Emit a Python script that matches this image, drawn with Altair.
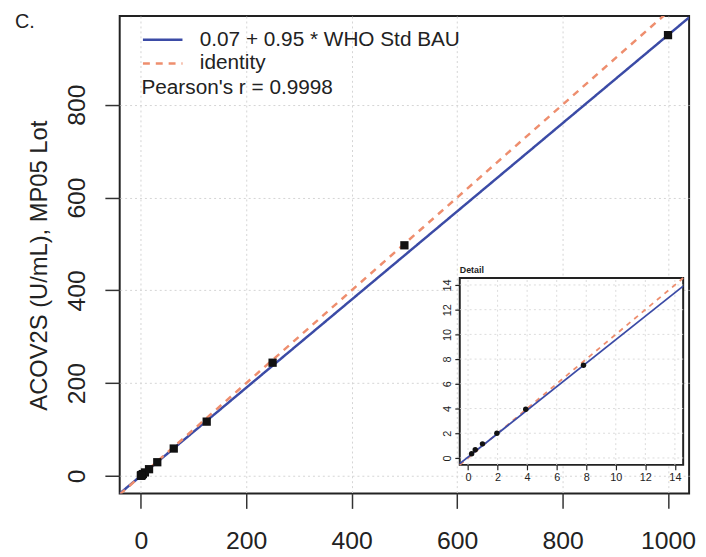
import altair as alt
import pandas as pd

# ---- data ----
who_std = [1000, 500, 250, 125, 62.5, 31.25, 15.625, 7.8125, 3.906, 1.953, 0.977, 0.488, 0.244]
acov2s = [950, 497, 244, 117, 59, 29.5, 14.5, 7.5, 3.94, 2.0, 1.14, 0.66, 0.34]
intercept = 0.07
slope = 0.95
pearson_text = "Pearson's r = 0.9998"
fit_label = "0.07 + 0.95 * WHO Std BAU"
id_label = "identity"
main_ticks = [0, 200, 400, 600, 800, 1000]
inset_ticks = [0, 2, 4, 6, 8, 10, 12, 14]
main_x_domain = [-40, 1040]
main_y_domain = [-38, 991]
inset_domain = [-0.56, 14.56]
inset_x_range = [344, 570]
inset_y_range = [454, 265]

FONT = "Liberation Sans"
BLUE = "#3B4BA6"
SALMON = "#EE8E6E"
W, H = 576, 483

pts = pd.DataFrame({"x": who_std, "y": acov2s})
inset_pts = pts[pts["x"] <= inset_domain[1]]


def lines_df(lo, hi):
    return pd.DataFrame({
        "x": [lo, hi, lo, hi],
        "y": [intercept + slope * lo, intercept + slope * hi, lo, hi],
        "series": [fit_label, fit_label, id_label, id_label],
    })


main_lines = lines_df(main_x_domain[0], main_x_domain[1])
inset_lines = lines_df(inset_domain[0], inset_domain[1])

mx = alt.Scale(domain=main_x_domain, nice=False, zero=False)
my = alt.Scale(domain=main_y_domain, nice=False, zero=False)

x_axis = alt.Axis(values=main_ticks, format="d", title=None, domain=False, tickSize=15,
                  tickWidth=1.5, tickColor="#333", labelFontSize=25, labelColor="#222",
                  labelFont=FONT, labelPadding=21, grid=True, gridColor="#d4d4d4",
                  gridDash=[2, 3], gridWidth=1, labelFlush=False)
y_axis = alt.Axis(values=main_ticks, format="d", title="ACOV2S (U/mL), MP05 Lot", domain=False,
                  tickSize=15, tickWidth=1.5, tickColor="#333", labelFontSize=25,
                  labelColor="#222", labelFont=FONT, labelAngle=270, labelAlign="center",
                  labelBaseline="bottom", labelPadding=16, grid=True, gridColor="#d4d4d4",
                  gridDash=[2, 3], gridWidth=1, titleFont=FONT, titleFontSize=24,
                  titleFontWeight="normal", titleColor="#222", titleAngle=270,
                  titleAlign="center", titleBaseline="middle", titleX=-81, titleY=252,
                  labelFlush=False)

legend = alt.Legend(title=pearson_text, titleOrient="bottom", titleAnchor="start",
                    titleFont=FONT, titleFontSize=21, titleFontWeight="normal", titleColor="#222",
                    titlePadding=2, orient="none", legendX=22, legendY=12, titleLimit=500,
                    labelFont=FONT, labelFontSize=21, labelColor="#222", labelOffset=16,
                    labelLimit=500, symbolType="stroke", symbolSize=1600, symbolStrokeWidth=2.5,
                    clipHeight=24, rowPadding=0, padding=0)

series_color = alt.Color("series:N", scale=alt.Scale(domain=[fit_label, id_label], range=[BLUE, SALMON]),
                         legend=legend)
series_dash = alt.StrokeDash("series:N", scale=alt.Scale(domain=[fit_label, id_label],
                                                          range=[[1, 0], [7, 6]]), legend=legend)

main_line_layer = alt.Chart(main_lines).mark_line(clip=True, strokeWidth=2.5).encode(
    x=alt.X("x:Q", scale=mx, axis=x_axis),
    y=alt.Y("y:Q", scale=my, axis=y_axis),
    color=series_color,
    strokeDash=series_dash,
    detail="series:N",
)
main_points = alt.Chart(pts).mark_square(size=70, color="#111", opacity=1).encode(
    x=alt.X("x:Q", scale=mx, axis=x_axis),
    y=alt.Y("y:Q", scale=my, axis=y_axis),
)
main = alt.layer(main_line_layer, main_points)

ix = alt.Scale(domain=inset_domain, range=inset_x_range, nice=False, zero=False)
iy = alt.Scale(domain=inset_domain, range=inset_y_range, nice=False, zero=False)

ix_axis = alt.Axis(values=inset_ticks, title=None, orient="bottom", offset=-(H - inset_y_range[0]),
                   domain=False, grid=False, tickSize=5, tickWidth=1.2, tickColor="#222",
                   labelFontSize=11, labelColor="#222", labelFont=FONT, labelPadding=2,
                   labelFlush=False, zindex=2)
iy_axis = alt.Axis(values=inset_ticks, title=None, orient="left", offset=-inset_x_range[0],
                   domain=False, grid=False, tickSize=5, tickWidth=1.2, tickColor="#222",
                   labelFontSize=11, labelColor="#222", labelFont=FONT, labelAngle=270,
                   labelAlign="center", labelBaseline="bottom", labelPadding=2,
                   labelFlush=False, zindex=2)

IX = alt.X("x:Q", scale=ix, axis=ix_axis)
IY = alt.Y("y:Q", scale=iy, axis=iy_axis)

box_df = pd.DataFrame({"x": [inset_domain[0]], "x2": [inset_domain[1]],
                       "y": [inset_domain[0]], "y2": [inset_domain[1]]})
inset_box = alt.Chart(box_df).mark_rect(fill="white", stroke="#222", strokeWidth=2).encode(
    x=IX, x2="x2:Q", y=IY, y2="y2:Q")
grid_df = pd.DataFrame({"x": inset_ticks, "y": inset_domain[0], "y2": inset_domain[1]})
inset_vgrid = alt.Chart(grid_df).mark_rule(color="#dcdcdc", strokeDash=[2, 3], strokeWidth=1).encode(
    x=IX, y=IY, y2="y2:Q")
hgrid_df = pd.DataFrame({"y": inset_ticks, "x": inset_domain[0], "x2": inset_domain[1]})
inset_hgrid = alt.Chart(hgrid_df).mark_rule(color="#dcdcdc", strokeDash=[2, 3], strokeWidth=1).encode(
    y=IY, x=IX, x2="x2:Q")
inset_line_fit = alt.Chart(inset_lines[inset_lines.series == fit_label]).mark_line(
    color=BLUE, strokeWidth=1.8).encode(x=IX, y=IY)
inset_line_id = alt.Chart(inset_lines[inset_lines.series == id_label]).mark_line(
    color=SALMON, strokeWidth=1.8, strokeDash=[5, 5]).encode(x=IX, y=IY)
inset_points = alt.Chart(inset_pts).mark_circle(size=30, color="#111", opacity=1).encode(x=IX, y=IY)
title_df = pd.DataFrame({"x": [inset_domain[0]], "y": [inset_domain[1]], "t": ["Detail"]})
inset_title = alt.Chart(title_df).mark_text(align="left", baseline="bottom", dy=-3, fontSize=9,
                                            fontWeight="bold", font=FONT, color="#222").encode(
    x=IX, y=IY, text="t:N")

inset = alt.layer(inset_box, inset_vgrid, inset_hgrid, inset_line_id, inset_line_fit,
                  inset_points, inset_title)

chart = alt.layer(main, inset).resolve_scale(x="independent", y="independent").properties(
    width=W, height=H,
    title=alt.TitleParams("C.", anchor="start", frame="group", dx=-106, offset=-16,
                          fontSize=20, fontWeight="normal", font=FONT, color="#222"),
    autosize=alt.AutoSizeParams(type="none"),
    padding={"left": 113, "top": 5, "right": 9, "bottom": 60},
).configure(background="white").configure_view(stroke="#222", strokeWidth=2)

chart.save("out.html", embed_options={"renderer": "svg", "actions": False})
